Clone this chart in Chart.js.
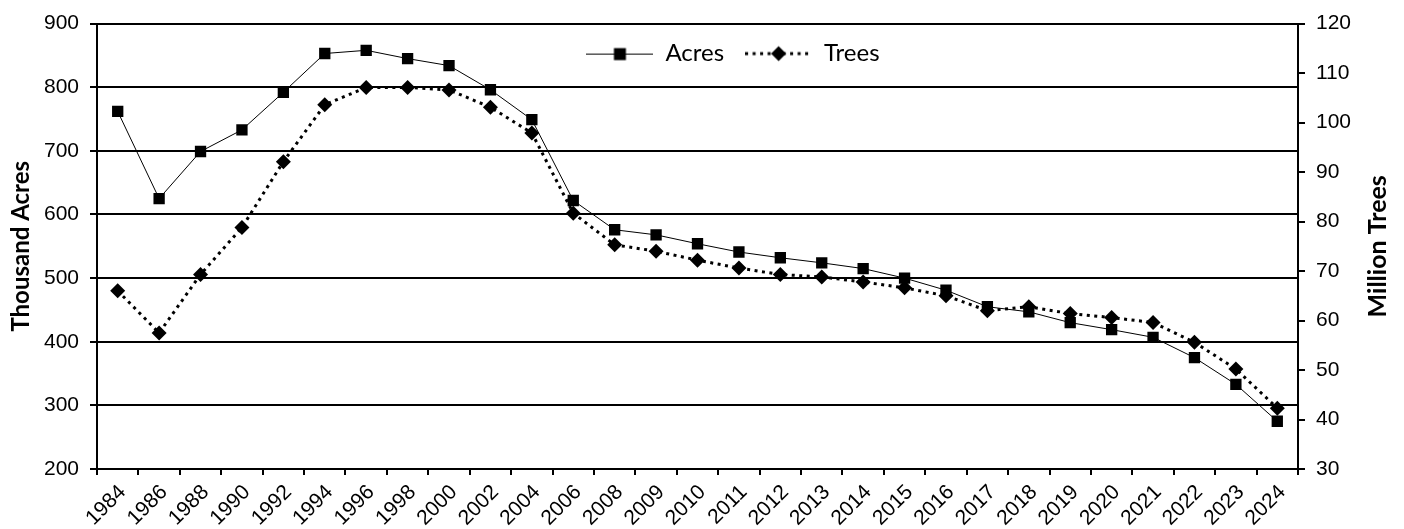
<!DOCTYPE html>
<html lang="en">
<head>
<meta charset="UTF-8">
<title>Acres and Trees</title>
<script src="https://cdn.jsdelivr.net/npm/chart.js"></script>
<style>
  body { margin: 0; background: #fff; }
</style>
</head>
<body>
<canvas id="myChart" width="1404" height="529"></canvas>
<script>
// data
const years = ['1984', '1986', '1988', '1990', '1992', '1994', '1996', '1998', '2000', '2002', '2004',
    '2006', '2008', '2009', '2010', '2011', '2012', '2013', '2014', '2015', '2016', '2017', '2018',
    '2019', '2020', '2021', '2022', '2023', '2024'];
const acres = [762, 625, 699, 733, 792, 853, 858, 845, 834, 796, 749,
    622, 576, 568, 554, 541, 532, 524, 515, 500, 481, 455, 447,
    430, 419, 407, 375, 333, 275];
const trees = [66.0, 57.5, 69.3, 78.8, 92.1, 103.6, 107.1, 107.1, 106.6, 103.1, 97.9,
    81.7, 75.3, 74.0, 72.2, 70.6, 69.3, 68.8, 67.8, 66.6, 65.0, 62.0, 62.8,
    61.4, 60.6, 59.6, 55.6, 50.2, 42.3];

const seriesNames = ['Acres', 'Trees'];
const leftTitle = 'Thousand Acres';
const rightTitle = 'Million Trees';
const acresRange = [200, 900, 100];
const treesRange = [30, 120, 10];

const tickFont = { family: 'Liberation Sans', size: 21 };
const titleFont = { family: 'Lato', size: 24, weight: 'bold' };

// little line+marker pictures for the legend
function legendSample(kind) {
    const c = document.createElement('canvas');
    c.width = 67; c.height = 18;
    const g = c.getContext('2d');
    g.fillStyle = '#000';
    g.strokeStyle = '#000';
    g.beginPath();
    if (kind === 'rect') {
        g.lineWidth = 1;
        g.moveTo(0, 9.5); g.lineTo(67, 9.5);
        g.stroke();
        g.fillRect(27.5, 3.5, 12, 12);
    } else {
        g.lineWidth = 3;
        g.setLineDash([3, 4.5]);
        g.moveTo(0, 9); g.lineTo(67, 9);
        g.stroke();
        g.setLineDash([]);
        g.beginPath();
        g.moveTo(33.5, 1.5); g.lineTo(41, 9); g.lineTo(33.5, 16.5); g.lineTo(26, 9);
        g.closePath();
        g.fill();
    }
    return c;
}
const samples = [legendSample('rect'), legendSample('rectRot')];

// legend sits inside the plot, one item per column so they line up in a row
const legendSpot = {
    id: 'legendSpot',
    afterLayout(chart) {
        const a = chart.chartArea, lg = chart.legend;
        lg.maxHeight = 50;
        lg.fit();
        lg.left = a.left + (a.right - a.left) * 0.39;
        lg.right = lg.left + lg.width;
        lg.top = a.top - 3;
        lg.bottom = lg.top + lg.height;
    }
};

// secondary axis title reads bottom-to-top like the primary one
const rightTitlePlugin = {
    id: 'rightTitle',
    afterDraw(chart) {
        const s = chart.scales.y1, ctx = chart.ctx;
        ctx.save();
        ctx.translate(s.right - 26, (s.top + s.bottom) / 2);
        ctx.rotate(-Math.PI / 2);
        ctx.font = 'bold 25px Lato';
        ctx.fillStyle = '#000';
        ctx.textAlign = 'center';
        ctx.textBaseline = 'middle';
        ctx.fillText(rightTitle, 0, 0);
        ctx.restore();
    }
};

Chart.defaults.color = '#000';

const ctx = document.getElementById('myChart').getContext('2d');
const myChart = new Chart(ctx, {
    type: 'line',
    data: {
        labels: years,
        datasets: [{
            label: seriesNames[0],
            data: acres,
            yAxisID: 'y',
            borderColor: '#000',
            borderWidth: 1,
            pointStyle: 'rect',
            pointRadius: 8,
            pointBackgroundColor: '#000',
            pointBorderWidth: 0,
            tension: 0
        }, {
            label: seriesNames[1],
            data: trees,
            yAxisID: 'y1',
            borderColor: '#000',
            borderWidth: 3,
            borderDash: [3, 4.5],
            pointStyle: 'rectRot',
            pointRadius: 7.5,
            pointBackgroundColor: '#000',
            pointBorderWidth: 0,
            tension: 0
        }]
    },
    options: {
        responsive: false,
        animation: false,
        layout: { padding: { top: 21, left: 0, right: 0, bottom: 0 } },
        plugins: {
            tooltip: { enabled: false },
            legend: {
                position: 'chartArea',
                align: 'start',
                labels: {
                    usePointStyle: true,
                    pointStyleWidth: 67,
                    boxHeight: 18,
                    padding: 21,
                    font: { family: 'Lato', size: 24 },
                    color: '#000',
                    generateLabels: () => seriesNames.map((name, i) => ({
                        text: name,
                        pointStyle: samples[i],
                        datasetIndex: i,
                        fontColor: '#000',
                        lineWidth: 0,
                        hidden: false
                    }))
                }
            }
        },
        scales: {
            x: {
                offset: true,
                grid: {
                    offset: true,
                    drawOnChartArea: false,
                    color: '#000',
                    lineWidth: 2,
                    tickLength: 6
                },
                border: { color: '#000', width: 2 },
                ticks: {
                    autoSkip: false,
                    maxRotation: 45,
                    minRotation: 45,
                    font: tickFont,
                    padding: 5,
                    labelOffset: 5
                },
                afterFit: (s) => { s.height = 60; }
            },
            y: {
                position: 'left',
                min: acresRange[0],
                max: acresRange[1],
                ticks: { stepSize: acresRange[2], font: tickFont, padding: 11 },
                grid: { color: '#000', lineWidth: 2, tickLength: 7 },
                border: { color: '#000', width: 2 },
                title: { display: true, text: leftTitle, font: titleFont, padding: { top: 7, bottom: 0 } },
                afterFit: (s) => { s.width = 97; }
            },
            y1: {
                position: 'right',
                min: treesRange[0],
                max: treesRange[1],
                ticks: { stepSize: treesRange[2], font: tickFont, padding: 11 },
                grid: { drawOnChartArea: false, color: '#000', lineWidth: 2, tickLength: 7 },
                border: { color: '#000', width: 2 },
                afterFit: (s) => { s.width = 106; }
            }
        }
    },
    plugins: [legendSpot, rightTitlePlugin]
});
</script>
</body>
</html>
